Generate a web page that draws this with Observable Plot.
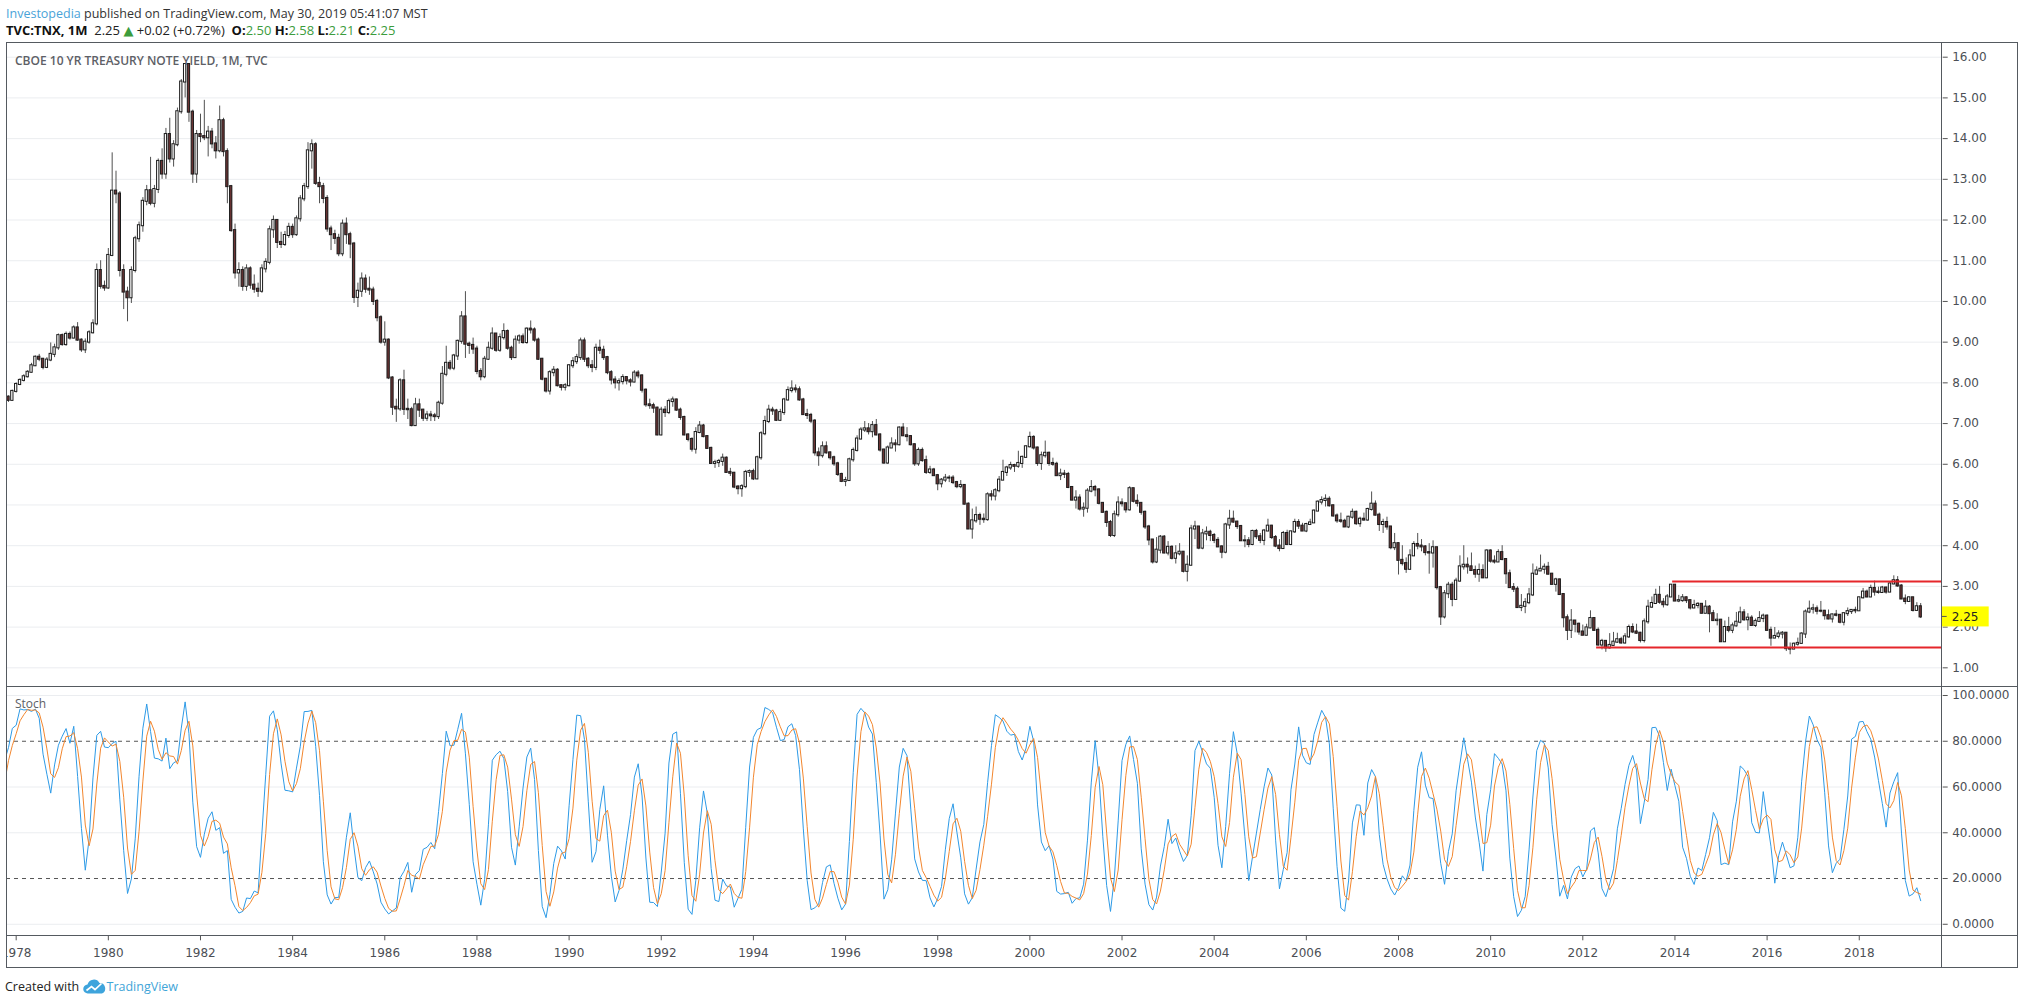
<!DOCTYPE html>
<html>
<head>
<meta charset="utf-8">
<script src="https://cdn.jsdelivr.net/npm/d3@7"></script>
<script src="https://cdn.jsdelivr.net/npm/@observablehq/plot@0.6"></script>
<style>
html, body { margin: 0; padding: 0; background: #ffffff; }
#root { position: relative; width: 2024px; height: 1004px; overflow: hidden; font-family: "Open Sans", "DejaVu Sans", sans-serif; color: #222; }
.abs { position: absolute; white-space: nowrap; }
.ln { position: absolute; background: #555a60; }
.hdr { line-height: 17px; }
.g { color: #3c9c3c; }
.b { font-weight: 700; color: #111; }
</style>
</head>
<body>
<div id="root">
  <div class="abs hdr" style="left:6px;top:5px;color:#333;font-size:12.5px;"><span style="color:#4aa3d8">Investopedia</span> published on TradingView.com, May 30, 2019 05:41:07 MST</div>
  <div class="abs hdr" id="ohlc" style="left:6px;top:22px;color:#222;font-size:13px;"></div>
  <div class="abs" id="price" style="left:6px;top:42px;"></div>
  <div class="abs" id="stoch" style="left:6px;top:686px;"></div>
  <div class="abs" style="left:15px;top:52px;font-size:12px;line-height:17px;font-weight:600;color:#5d6066;">CBOE 10 YR TREASURY NOTE YIELD, 1M, TVC</div>
  <div class="abs" style="left:15px;top:695px;font-size:12px;line-height:17px;color:#5d6066;">Stoch</div>
  <div class="ln" style="left:6px;top:42px;width:2012px;height:1px"></div>
  <div class="ln" style="left:6px;top:967px;width:2012px;height:1px"></div>
  <div class="ln" style="left:6px;top:42px;width:1px;height:926px"></div>
  <div class="ln" style="left:2017px;top:42px;width:1px;height:926px"></div>
  <div class="ln" style="left:6px;top:686px;width:2012px;height:1px"></div>
  <div class="ln" style="left:6px;top:935px;width:2012px;height:1px"></div>
  <div class="ln" style="left:1941px;top:42px;width:1px;height:926px"></div>
  <div class="abs" style="left:5px;top:978px;font-size:12.5px;line-height:18px;color:#222;">Created with <svg width="24" height="15" viewBox="0 0 24 15" style="vertical-align:-3px"><path d="M5 14.5 a4.5 4.5 0 0 1 -0.5 -9 a6.5 6.5 0 0 1 12 -1.5 a5.5 5.5 0 0 1 2.5 10.5 z" fill="#3ea4dc"/><path d="M3.5 11.5 l5 -4 l3.5 3 l6.5 -6" stroke="#ffffff" stroke-width="1.7" fill="none"/></svg><span style="color:#3fa5d8">TradingView</span></div>
</div>
<script>
// ---------- data: monthly TNX candles, Jan 1977 .. May 2019 ----------
const firstYear = 1977;
const close = [
  7.34, 7.43, 7.44, 7.37, 7.37, 7.26, 7.43, 7.38, 7.42, 7.65, 7.57, 7.79,
  7.96, 8.06, 8.15, 8.26, 8.42, 8.63, 8.58, 8.38, 8.56, 8.70, 8.86, 9.16,
  8.94, 9.19, 9.10, 9.35, 9.05, 8.81, 9.00, 9.23, 9.45, 10.76, 10.37, 10.33,
  11.13, 12.71, 12.64, 10.76, 10.23, 10.09, 10.76, 11.54, 11.86, 12.46, 12.72, 12.41,
  12.75, 13.44, 13.13, 14.10, 13.50, 13.85, 14.66, 15.39, 15.82, 14.65, 13.13, 14.10,
  14.05, 14.02, 14.16, 13.87, 13.70, 14.44, 13.68, 12.82, 11.74, 10.70, 10.76, 10.37,
  10.80, 10.40, 10.30, 10.25, 10.80, 10.96, 11.76, 11.99, 11.45, 11.40, 11.62, 11.82,
  11.64, 12.03, 12.52, 12.82, 13.70, 13.85, 12.90, 12.82, 12.53, 11.78, 11.64, 11.55,
  11.17, 11.90, 11.64, 11.41, 10.10, 10.25, 10.55, 10.30, 10.28, 10.00, 9.60, 9.00,
  9.05, 8.12, 7.40, 7.36, 8.05, 7.35, 7.34, 6.95, 7.46, 7.33, 7.13, 7.21,
  7.19, 7.17, 7.50, 8.21, 8.48, 8.36, 8.66, 9.02, 9.62, 8.95, 8.92, 8.83,
  8.28, 8.15, 8.58, 8.85, 9.20, 8.80, 9.11, 9.26, 8.85, 8.62, 9.05, 9.13,
  8.99, 9.32, 9.30, 9.05, 8.58, 8.09, 7.80, 8.25, 8.31, 7.93, 7.89, 7.93,
  8.42, 8.52, 8.62, 9.03, 8.58, 8.42, 8.38, 8.85, 8.80, 8.62, 8.25, 8.07,
  8.00, 8.03, 8.13, 8.05, 8.02, 8.24, 8.17, 7.82, 7.46, 7.44, 7.38, 6.72,
  7.33, 7.27, 7.54, 7.58, 7.33, 7.15, 6.72, 6.61, 6.37, 6.78, 6.94, 6.68,
  6.39, 6.02, 6.04, 6.07, 6.15, 5.80, 5.78, 5.44, 5.40, 5.45, 5.80, 5.82,
  5.64, 6.16, 6.75, 7.05, 7.33, 7.31, 7.08, 7.27, 7.58, 7.81, 7.85, 7.83,
  7.58, 7.22, 7.20, 7.06, 6.28, 6.21, 6.43, 6.28, 6.16, 6.01, 5.75, 5.58,
  5.60, 6.11, 6.34, 6.62, 6.84, 6.87, 6.80, 6.95, 6.72, 6.35, 6.03, 6.40,
  6.50, 6.48, 6.89, 6.70, 6.68, 6.48, 6.01, 6.34, 6.09, 5.80, 5.86, 5.72,
  5.52, 5.61, 5.66, 5.66, 5.55, 5.45, 5.48, 5.02, 4.41, 4.61, 4.74, 4.65,
  4.64, 5.25, 5.22, 5.35, 5.61, 5.80, 5.91, 5.97, 5.95, 6.02, 6.17, 6.43,
  6.66, 6.40, 6.02, 6.21, 6.27, 6.02, 6.00, 5.72, 5.76, 5.75, 5.43, 5.12,
  5.17, 4.90, 4.92, 5.34, 5.43, 5.37, 5.04, 4.82, 4.57, 4.25, 4.76, 5.05,
  5.03, 4.88, 5.40, 5.09, 5.04, 4.82, 4.46, 4.14, 3.60, 3.89, 4.21, 3.82,
  3.96, 3.69, 3.80, 3.84, 3.37, 3.52, 4.41, 4.46, 3.94, 4.29, 4.33, 4.25,
  4.13, 3.97, 3.84, 4.51, 4.65, 4.58, 4.47, 4.12, 4.12, 4.03, 4.35, 4.22,
  4.13, 4.36, 4.48, 4.20, 3.99, 3.93, 4.30, 4.03, 4.34, 4.57, 4.48, 4.36,
  4.52, 4.56, 4.85, 5.07, 5.11, 5.14, 4.98, 4.73, 4.61, 4.60, 4.46, 4.70,
  4.82, 4.54, 4.65, 4.63, 4.89, 5.02, 4.75, 4.52, 4.57, 4.46, 3.95, 4.05,
  3.64, 3.56, 3.42, 3.75, 4.03, 3.99, 3.97, 3.83, 3.82, 3.95, 2.97, 2.25,
  2.82, 3.03, 2.68, 3.13, 3.48, 3.52, 3.48, 3.39, 3.30, 3.39, 3.21, 3.87,
  3.62, 3.60, 3.83, 3.66, 3.31, 2.97, 2.93, 2.48, 2.51, 2.60, 2.79, 3.30,
  3.38, 3.42, 3.47, 3.30, 3.05, 3.16, 2.80, 2.23, 1.92, 2.15, 2.07, 1.88,
  1.80, 1.98, 2.21, 1.92, 1.56, 1.65, 1.49, 1.55, 1.63, 1.69, 1.61, 1.76,
  1.99, 1.88, 1.85, 1.67, 2.13, 2.49, 2.58, 2.78, 2.61, 2.55, 2.74, 3.03,
  2.64, 2.65, 2.72, 2.65, 2.47, 2.53, 2.56, 2.34, 2.49, 2.33, 2.16, 2.17,
  1.64, 1.99, 1.92, 2.03, 2.12, 2.35, 2.18, 2.22, 2.04, 2.14, 2.21, 2.27,
  1.92, 1.73, 1.77, 1.83, 1.85, 1.47, 1.46, 1.58, 1.60, 1.83, 2.37, 2.44,
  2.45, 2.39, 2.39, 2.28, 2.20, 2.30, 2.29, 2.12, 2.33, 2.38, 2.41, 2.40,
  2.72, 2.86, 2.74, 2.95, 2.86, 2.85, 2.96, 2.86, 3.06, 3.14, 3.01, 2.69,
  2.63, 2.72, 2.41, 2.50, 2.25
];
const high = [
  7.40, 7.48, 7.52, 7.48, 7.45, 7.40, 7.47, 7.52, 7.45, 7.70, 7.68, 7.82,
  8.00, 8.10, 8.20, 8.30, 8.48, 8.66, 8.70, 8.60, 8.62, 8.98, 8.95, 9.20,
  9.20, 9.25, 9.25, 9.40, 9.48, 9.08, 9.08, 9.28, 9.55, 10.92, 11.00, 10.50,
  11.30, 13.65, 13.20, 12.70, 10.90, 10.35, 10.85, 11.60, 11.95, 12.55, 12.85, 13.54,
  12.85, 13.50, 13.75, 14.25, 14.50, 13.95, 14.75, 15.45, 15.84, 15.83, 14.70, 14.20,
  14.60, 14.94, 14.30, 14.25, 14.05, 14.80, 14.50, 13.75, 12.85, 11.90, 10.95, 10.85,
  10.90, 10.85, 10.65, 10.45, 10.90, 11.05, 11.85, 12.10, 12.00, 11.70, 11.72, 11.92,
  11.90, 12.10, 12.60, 12.90, 13.90, 13.97, 13.90, 13.05, 12.90, 12.60, 11.85, 11.75,
  11.65, 12.00, 12.05, 11.70, 11.45, 10.45, 10.70, 10.65, 10.60, 10.35, 10.05, 9.65,
  9.50, 9.08, 8.15, 7.60, 8.10, 8.31, 7.60, 7.40, 7.62, 7.60, 7.35, 7.30,
  7.30, 7.25, 7.55, 8.40, 8.90, 8.55, 8.70, 9.05, 9.75, 10.24, 9.00, 9.10,
  8.90, 8.35, 8.65, 9.00, 9.35, 9.20, 9.20, 9.45, 9.30, 8.90, 9.15, 9.18,
  9.20, 9.35, 9.52, 9.35, 9.10, 8.60, 8.10, 8.30, 8.40, 8.35, 7.95, 7.98,
  8.45, 8.62, 8.70, 9.10, 9.10, 8.62, 8.55, 8.95, 9.05, 8.90, 8.65, 8.30,
  8.15, 8.10, 8.20, 8.15, 8.10, 8.30, 8.30, 8.20, 7.85, 7.60, 7.50, 7.40,
  7.40, 7.42, 7.60, 7.65, 7.60, 7.38, 7.18, 6.75, 6.65, 6.90, 7.05, 6.98,
  6.70, 6.42, 6.10, 6.12, 6.25, 6.18, 5.90, 5.80, 5.48, 5.50, 5.85, 5.86,
  5.88, 6.20, 6.80, 7.18, 7.45, 7.40, 7.35, 7.35, 7.62, 7.90, 8.05, 7.95,
  7.90, 7.62, 7.35, 7.25, 7.10, 6.40, 6.55, 6.55, 6.30, 6.20, 6.05, 5.78,
  5.68, 6.15, 6.40, 6.70, 6.90, 7.05, 7.00, 7.05, 7.10, 6.75, 6.37, 6.45,
  6.65, 6.60, 6.92, 7.00, 6.90, 6.70, 6.50, 6.40, 6.40, 6.20, 5.95, 5.90,
  5.75, 5.65, 5.75, 5.72, 5.72, 5.58, 5.60, 5.50, 5.05, 4.90, 4.95, 4.80,
  4.78, 5.30, 5.35, 5.40, 5.70, 6.10, 5.95, 6.05, 6.00, 6.32, 6.20, 6.45,
  6.79, 6.70, 6.42, 6.30, 6.57, 6.30, 6.15, 6.05, 5.88, 5.85, 5.80, 5.45,
  5.35, 5.25, 5.05, 5.40, 5.60, 5.48, 5.40, 5.05, 4.85, 4.62, 4.85, 5.20,
  5.15, 5.05, 5.45, 5.40, 5.25, 5.05, 4.85, 4.50, 4.15, 4.20, 4.25, 4.25,
  4.10, 4.00, 4.00, 4.05, 3.85, 3.75, 4.50, 4.60, 4.45, 4.40, 4.46, 4.38,
  4.30, 4.20, 4.00, 4.55, 4.87, 4.85, 4.60, 4.50, 4.25, 4.20, 4.38, 4.40,
  4.30, 4.40, 4.65, 4.50, 4.25, 4.15, 4.35, 4.38, 4.35, 4.65, 4.64, 4.55,
  4.55, 4.65, 4.88, 5.10, 5.20, 5.25, 5.20, 5.00, 4.78, 4.80, 4.65, 4.72,
  4.90, 4.85, 4.70, 4.80, 4.92, 5.32, 5.10, 4.80, 4.65, 4.70, 4.46, 4.30,
  4.07, 4.00, 3.70, 3.90, 4.10, 4.30, 4.15, 4.00, 4.05, 4.12, 3.95, 3.00,
  2.90, 3.10, 3.10, 3.20, 3.75, 4.00, 3.70, 3.82, 3.50, 3.55, 3.53, 3.90,
  3.90, 3.75, 3.90, 4.00, 3.67, 3.40, 3.07, 2.99, 2.80, 2.70, 2.95, 3.55,
  3.48, 3.77, 3.55, 3.59, 3.32, 3.20, 3.18, 2.80, 2.30, 2.43, 2.15, 2.10,
  2.05, 2.07, 2.40, 2.22, 1.98, 1.70, 1.65, 1.84, 1.87, 1.85, 1.75, 1.84,
  2.05, 2.08, 2.07, 1.87, 2.20, 2.66, 2.74, 2.93, 3.00, 2.70, 2.80, 3.03,
  3.04, 2.78, 2.80, 2.74, 2.66, 2.66, 2.60, 2.57, 2.65, 2.53, 2.41, 2.33,
  2.19, 2.15, 2.24, 2.10, 2.36, 2.49, 2.43, 2.33, 2.28, 2.20, 2.38, 2.32,
  2.30, 2.00, 1.99, 1.91, 1.89, 1.86, 1.61, 1.61, 1.73, 1.86, 2.42, 2.64,
  2.56, 2.52, 2.63, 2.41, 2.42, 2.32, 2.41, 2.31, 2.34, 2.47, 2.43, 2.49,
  2.73, 2.95, 2.91, 3.03, 3.13, 2.98, 3.00, 2.98, 3.09, 3.26, 3.24, 3.04,
  2.79, 2.73, 2.72, 2.60, 2.58
];
const low = [
  7.25, 7.30, 7.38, 7.30, 7.30, 7.20, 7.22, 7.33, 7.32, 7.40, 7.52, 7.55,
  7.75, 7.93, 8.02, 8.12, 8.24, 8.40, 8.52, 8.32, 8.35, 8.52, 8.62, 8.80,
  8.90, 8.90, 9.05, 9.08, 9.02, 8.75, 8.72, 8.95, 9.20, 9.40, 10.30, 10.25,
  10.30, 11.10, 12.40, 10.60, 9.80, 9.50, 9.95, 10.70, 11.45, 11.70, 12.35, 12.35,
  12.30, 12.65, 13.00, 13.00, 13.40, 13.30, 13.80, 14.60, 15.00, 14.40, 12.90, 12.90,
  13.90, 13.95, 13.55, 13.75, 13.50, 13.65, 13.55, 12.40, 11.70, 10.55, 10.35, 10.25,
  10.25, 10.30, 10.20, 10.10, 10.20, 10.70, 10.90, 11.55, 11.30, 11.30, 11.35, 11.55,
  11.55, 11.60, 11.95, 12.45, 12.75, 13.25, 12.85, 12.40, 12.40, 11.70, 11.25, 11.40,
  11.10, 11.10, 11.40, 11.05, 9.95, 9.85, 10.10, 10.20, 10.15, 9.90, 9.50, 8.95,
  8.90, 8.08, 7.20, 7.03, 7.30, 7.20, 7.10, 6.92, 6.95, 7.15, 7.05, 7.05,
  7.05, 7.05, 7.10, 7.45, 8.15, 8.30, 8.30, 8.55, 8.95, 8.60, 8.70, 8.70,
  8.20, 8.05, 8.10, 8.55, 8.80, 8.75, 8.75, 9.05, 8.80, 8.55, 8.60, 8.95,
  8.95, 8.95, 9.20, 9.00, 8.55, 8.05, 7.75, 7.70, 8.15, 7.90, 7.80, 7.80,
  7.90, 8.35, 8.45, 8.55, 8.50, 8.35, 8.25, 8.30, 8.70, 8.55, 8.20, 7.95,
  7.85, 7.80, 7.95, 7.95, 7.90, 8.00, 8.10, 7.75, 7.40, 7.35, 7.25, 6.70,
  6.70, 7.15, 7.22, 7.40, 7.30, 7.08, 6.70, 6.55, 6.30, 6.25, 6.75, 6.65,
  6.38, 6.00, 5.90, 5.92, 5.95, 5.78, 5.70, 5.40, 5.25, 5.19, 5.40, 5.68,
  5.60, 5.62, 6.10, 6.70, 7.00, 7.20, 7.05, 7.05, 7.20, 7.55, 7.75, 7.75,
  7.55, 7.20, 7.10, 7.00, 6.20, 5.95, 6.15, 6.25, 6.10, 5.95, 5.70, 5.55,
  5.45, 5.58, 6.05, 6.30, 6.60, 6.78, 6.72, 6.65, 6.70, 6.30, 6.00, 6.00,
  6.40, 6.30, 6.45, 6.68, 6.55, 6.45, 5.95, 5.95, 6.05, 5.75, 5.75, 5.70,
  5.35, 5.42, 5.55, 5.55, 5.50, 5.40, 5.40, 5.00, 4.40, 4.16, 4.55, 4.50,
  4.55, 4.60, 5.10, 5.10, 5.30, 5.60, 5.70, 5.85, 5.80, 5.90, 5.90, 6.15,
  6.40, 6.35, 5.95, 5.85, 6.15, 5.95, 5.95, 5.70, 5.60, 5.65, 5.40, 5.10,
  4.90, 4.85, 4.70, 4.80, 5.30, 5.20, 5.00, 4.80, 4.45, 4.20, 4.20, 4.70,
  4.95, 4.80, 4.85, 5.05, 4.95, 4.75, 4.40, 4.00, 3.55, 3.56, 3.80, 3.80,
  3.75, 3.65, 3.55, 3.75, 3.33, 3.11, 3.50, 4.15, 3.90, 3.90, 4.12, 4.10,
  4.05, 3.96, 3.68, 3.80, 4.40, 4.55, 4.40, 4.11, 3.95, 3.95, 4.00, 4.15,
  4.05, 4.00, 4.35, 4.15, 3.95, 3.85, 3.93, 4.00, 4.00, 4.30, 4.40, 4.35,
  4.32, 4.50, 4.55, 4.85, 5.00, 4.95, 4.95, 4.70, 4.55, 4.55, 4.45, 4.42,
  4.65, 4.50, 4.45, 4.60, 4.60, 4.85, 4.73, 4.35, 4.30, 4.38, 3.90, 3.88,
  3.28, 3.50, 3.32, 3.40, 3.74, 3.90, 3.85, 3.75, 3.30, 3.45, 2.91, 2.04,
  2.20, 2.70, 2.50, 2.70, 3.10, 3.40, 3.30, 3.37, 3.20, 3.10, 3.19, 3.20,
  3.57, 3.55, 3.60, 3.63, 3.05, 2.95, 2.85, 2.46, 2.38, 2.33, 2.55, 2.75,
  3.27, 3.38, 3.30, 3.28, 3.04, 2.86, 2.78, 1.98, 1.67, 1.72, 1.86, 1.80,
  1.80, 1.79, 1.96, 1.91, 1.53, 1.44, 1.38, 1.46, 1.54, 1.60, 1.58, 1.58,
  1.72, 1.84, 1.82, 1.61, 1.61, 2.07, 2.46, 2.56, 2.56, 2.47, 2.51, 2.75,
  2.64, 2.60, 2.61, 2.58, 2.42, 2.45, 2.45, 2.32, 2.33, 1.86, 2.15, 2.03,
  1.63, 1.65, 1.86, 1.84, 2.00, 2.08, 2.14, 1.91, 2.03, 1.99, 2.14, 2.11,
  1.91, 1.53, 1.72, 1.71, 1.71, 1.40, 1.32, 1.45, 1.53, 1.59, 1.72, 2.33,
  2.32, 2.30, 2.35, 2.17, 2.18, 2.10, 2.25, 2.08, 2.03, 2.26, 2.31, 2.33,
  2.39, 2.69, 2.72, 2.73, 2.76, 2.81, 2.83, 2.81, 2.85, 3.04, 2.98, 2.68,
  2.55, 2.62, 2.37, 2.39, 2.21
];
const priceTicks = [1, 2, 3, 4, 5, 6, 7, 8, 9, 10, 11, 12, 13, 14, 15, 16];
const stochTicks = [0, 20, 40, 60, 80, 100];
const stochGuides = [20, 80];
const yearTicks = [1978, 1980, 1982, 1984, 1986, 1988, 1990, 1992, 1994, 1996, 1998,
                   2000, 2002, 2004, 2006, 2008, 2010, 2012, 2014, 2016, 2018];
const levelStart = [2013.95, 2012.30];   // drawn horizontal levels (start date)
const levelValue = [3.12, 1.50];         // level yield
const stochLength = 5, kSmoothing = 3, dSmoothing = 3;
const dayChange = "+0.02 (+0.72%)";

// ---------- derived table ----------
const rows = close.map((c, i) => ({
  t: firstYear + i / 12,
  open: i ? close[i - 1] : c,
  high: high[i], low: low[i], close: c
}));
const last = rows[rows.length - 1];

// Stochastic oscillator
const raw = rows.map((d, i) => {
  if (i < stochLength - 1) return NaN;
  const w = rows.slice(i - stochLength + 1, i + 1);
  const hh = d3.max(w, v => v.high), ll = d3.min(w, v => v.low);
  return hh === ll ? 50 : 100 * (d.close - ll) / (hh - ll);
});
const sma = (arr, n) => arr.map((v, i) => {
  if (i < n - 1) return NaN;
  const s = arr.slice(i - n + 1, i + 1);
  return s.some(x => isNaN(x)) ? NaN : d3.mean(s);
});
const kLine = sma(raw, kSmoothing);
const dLine = sma(kLine, dSmoothing);
const srows = rows.map((r, i) => ({t: r.t, k: kLine[i], d: dLine[i]})).filter(r => !isNaN(r.d));

// ---------- header ----------
document.getElementById("ohlc").innerHTML =
  `<span class="b">TVC:TNX, 1M</span>&nbsp; ${last.close.toFixed(2)} <span class="g">&#9650;</span> ${dayChange}&nbsp; ` +
  `<span class="b">O:</span><span class="g">${last.open.toFixed(2)}</span> ` +
  `<span class="b">H:</span><span class="g">${last.high.toFixed(2)}</span> ` +
  `<span class="b">L:</span><span class="g">${last.low.toFixed(2)}</span> ` +
  `<span class="b">C:</span><span class="g">${last.close.toFixed(2)}</span>`;

// ---------- layout ----------
const W = 2011, mRight = 75.3;
const xDomain = [1977.79, 2019.80];
const pxPerYear = (W - mRight) / (xDomain[1] - xDomain[0]);
const hw = 1.15 / pxPerYear;
const axisStyle = {fontFamily: "DejaVu Sans, Verdana, sans-serif", fontSize: "12px", color: "#4c4f55", background: "transparent", overflow: "hidden"};

const priceChart = Plot.plot({
  width: W, height: 644,
  marginLeft: 0, marginRight: mRight, marginTop: 0, marginBottom: 0,
  x: {domain: xDomain, axis: null},
  y: {domain: [0.541, 16.361]},
  color: {type: "identity"},
  style: axisStyle,
  marks: [
    Plot.gridY(priceTicks, {stroke: "#ebedf0", strokeOpacity: 1}),
    Plot.axisY(priceTicks, {anchor: "right", tickSize: 5, tickPadding: 5, label: null, tickFormat: d => d.toFixed(2), stroke: "#555"}),
    Plot.ruleX(rows, {x: "t", y1: "low", y2: "high", stroke: "#505050", strokeWidth: 1, clip: true}),
    Plot.rect(rows, {
      x1: d => d.t - hw, x2: d => d.t + hw, y1: "open", y2: "close",
      fill: d => d.close >= d.open ? "#ffffff" : "#6b3434",
      stroke: "#1b1b1b", strokeWidth: 1, insetTop: -0.5, insetBottom: -0.5, clip: true
    }),
    Plot.ruleY(levelValue.map((v, i) => ({v, s: levelStart[i]})), {y: "v", x1: "s", x2: () => xDomain[1], stroke: "#e5262b", strokeWidth: 2})
  ]
});
document.getElementById("price").append(priceChart);

// last price marker on the axis
{
  const yy = priceChart.scale("y").apply(last.close);
  const xr = W - mRight;
  const svg = d3.select(priceChart);
  svg.append("rect").attr("x", xr).attr("y", yy - 10).attr("width", 47).attr("height", 20).attr("fill", "#ffff00");
  svg.append("line").attr("x1", xr).attr("x2", xr + 5).attr("y1", yy).attr("y2", yy).attr("stroke", "#555");
  svg.append("text").attr("x", xr + 10).attr("y", yy).attr("dy", "0.35em").attr("text-anchor", "start")
     .attr("fill", "#222").style("font", "12px 'DejaVu Sans', Verdana, sans-serif").text(last.close.toFixed(2));
}

const stochChart = Plot.plot({
  width: W, height: 281,
  marginLeft: 0, marginRight: mRight, marginTop: 0, marginBottom: 31.7,
  x: {domain: xDomain},
  y: {domain: [-5.04, 103.94]},
  style: axisStyle,
  marks: [
    Plot.gridY(stochTicks.filter(v => !stochGuides.includes(v)), {stroke: "#ebedf0", strokeOpacity: 1}),
    Plot.ruleY(stochGuides, {stroke: "#555", strokeDasharray: "4,4", strokeWidth: 1}),
    Plot.axisY(stochTicks, {anchor: "right", tickSize: 5, tickPadding: 5, label: null, tickFormat: d => d.toFixed(4), stroke: "#555"}),
    Plot.axisX(yearTicks, {anchor: "bottom", tickSize: 5, tickPadding: 8, label: null, tickFormat: d => String(d), stroke: "#555"}),
    Plot.line(srows, {x: "t", y: "k", stroke: "#2d9ae6", strokeWidth: 1, clip: true}),
    Plot.line(srows, {x: "t", y: "d", stroke: "#f2862e", strokeWidth: 1, clip: true})
  ]
});
document.getElementById("stoch").append(stochChart);
</script>
</body>
</html>
